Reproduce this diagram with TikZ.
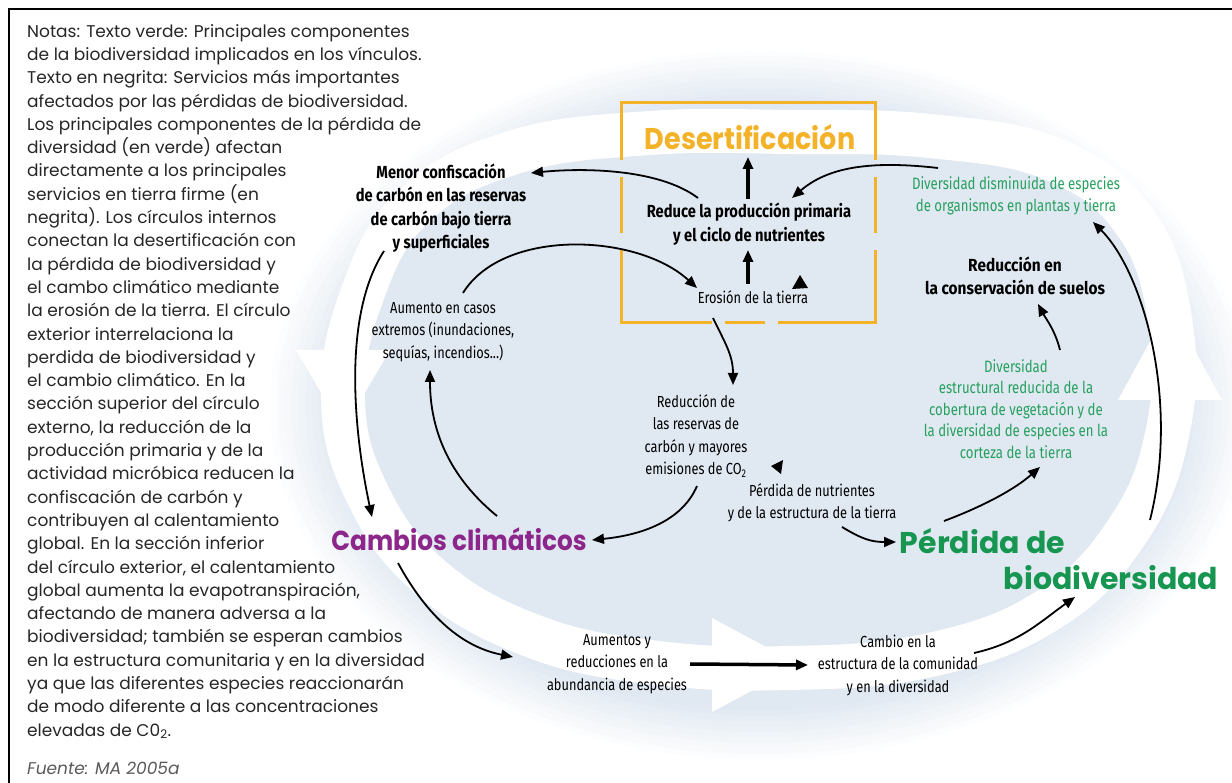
\documentclass[tikz,border=0pt]{standalone}
\usepackage{fontspec}
\setmainfont{Poppins}
\newfontfamily\condfont{Fira Sans}[FakeStretch=0.80]
\newfontfamily\servicefont{Fira Sans}[FakeStretch=0.84]
\newfontfamily\widecondfont{Fira Sans}[FakeStretch=0.88]
\newfontfamily\titlefont{Poppins}[FakeStretch=0.9]
\definecolor{desert}{RGB}{243,178,40}
\definecolor{clima}{RGB}{140,38,138}
\definecolor{biodiv}{RGB}{22,150,80}
\definecolor{comp}{RGB}{38,160,95}
\definecolor{backblue}{RGB}{224,232,241}
\definecolor{notegray}{RGB}{90,90,90}
\usetikzlibrary{
  arrows.meta      % triangle tips
}
\tikzset{
  every node/.style = {
    inner sep = 1pt,
    align = center
  },
  headline/.style = {font=\titlefont\bfseries\fontsize{30}{36}\selectfont},
  service/.style = {font=\servicefont\bfseries\fontsize{17.5}{23.5}\selectfont},
  effect/.style = {font=\condfont\fontsize{16}{22.5}\selectfont},
  component/.style = {text=comp, font=\condfont\fontsize{16.5}{21.5}\selectfont},
  notes/.style = {align=left, inner sep=0pt, text=black!85,
    font=\fontsize{17}{23.3}\selectfont},
  flow/.style = {->, line width=1.8pt},
  bigflow/.style = {->, line width=3.5pt},
  >={Triangle[length=12pt,width=10pt]}  % arrow type
}

\begin{document}
\begin{tikzpicture}[x=1pt, y=-1pt]
\useasboundingbox (0,0) rectangle (1232,783);

% background disc with soft edge, and white ring
\foreach \k in {1,...,10}
  \fill[backblue!\k0!white] (760,405) ellipse [x radius={497-7*\k}, y radius={360-5.5*\k}];
\draw[white, line width=44pt] plot[smooth cycle, tension=0.7] coordinates {
  (343,400) (362,295) (415,205) (515,152) (650,133) (790,132) (930,136)
  (1055,160) (1135,222) (1170,320) (1168,430) (1128,530) (1048,610)
  (930,655) (790,668) (650,662) (530,635) (430,577) (368,495)};
\fill[white] (296,350) -- (390,350) -- (343,430) -- cycle;
\fill[white] (712,618) -- (712,712) -- (800,665) -- cycle;
\fill[white] (1118,400) -- (1222,400) -- (1170,305) -- cycle;

% frame
\draw[line width=2pt] (1232,9) -- (9,9) -- (9,783);

% desertification box
\begin{scope}[desert, line width=3pt]
  \draw (621,160) -- (621,103) -- (875,103) -- (875,160);
  \draw (621,177) -- (621,233);
  \draw (621,250) -- (621,323) -- (712,323);
  \draw (725,323) -- (765,323);
  \draw (778,323) -- (875,323) -- (875,250);
  \draw (875,233) -- (875,177);
\end{scope}

% notes
\node[notes, anchor=north west] (notas) at (27,24) {%
Notas: Texto verde: Principales componentes\\
de la biodiversidad implicados en los vínculos.\\
Texto en negrita: Servicios más importantes\\
afectados por las pérdidas de biodiversidad.\\
Los principales componentes de la pérdida de\\
diversidad (en verde) afectan\\
directamente a los principales\\
servicios en tierra firme (en\\
negrita). Los círculos internos\\
conectan la desertificación con\\
la pérdida de biodiversidad y\\
el cambo climático mediante\\
la erosión de la tierra. El círculo\\
exterior interrelaciona la\\
perdida de biodiversidad y\\
el cambio climático. En la\\
sección superior del círculo\\
externo, la reducción de la\\
producción primaria y de la\\
actividad micróbica reducen la\\
confiscación de carbón y\\
contribuyen al calentamiento\\
global. En la sección inferior\\
del círculo exterior, el calentamiento\\
global aumenta la evapotranspiración,\\
afectando de manera adversa a la\\
biodiversidad; también se esperan cambios\\
en la estructura comunitaria y en la diversidad\\
ya que las diferentes especies reaccionarán\\
de modo diferente a las concentraciones\\
elevadas de C0\textsubscript{2}.};
\node[notes, anchor=west, text=notegray, font=\itshape\fontsize{17}{23.3}\selectfont]
  (fuente) at (27,768) {Fuente: MA 2005a};

% main concepts
\node[headline, text=desert] (desert) at (750,137) {Desertificación};
\node[headline, text=clima, font=\titlefont\bfseries\fontsize{27.5}{36}\selectfont]
  (cambios) at (459,539) {Cambios climáticos};
\node[headline, text=biodiv, align=left, font=\bfseries\fontsize{30}{36}\selectfont]
  (perdida) at (1059,559) {Pérdida de\\\hspace*{104pt}biodiversidad};

% inner nodes
\node[service] (reduce) at (749,224) {Reduce la producción primaria\\y el ciclo de nutrientes};
\node[effect] (erosion) at (753,297) {Erosión de la tierra};
\node[service] (menor) at (441,208) {Menor confiscación\\de carbón en las reservas\\de carbón bajo tierra\\y superficiales};
\node[effect] (aumento) at (443,332) {Aumento en casos\\extremos (inundaciones,\\sequías, incendios...)};
\node[effect] (reservas) at (696,436) {Reducción de\\las reservas de\\carbón y mayores\\emisiones de CO\textsubscript{2}};
\node[effect] (nutrientes) at (812,503) {Pérdida de nutrientes\\y de la estructura de la tierra};
\node[component] (estructural) at (1016,409) {Diversidad\\estructural reducida de la\\cobertura de vegetación y de\\la diversidad de especies en la\\corteza de la tierra};
\node[service, font=\widecondfont\bfseries\fontsize{17.5}{23.5}\selectfont]
  (conserv) at (1015,276) {Reducción en\\la conservación de suelos};
\node[component] (disminuida) at (1016,196) {Diversidad disminuida de especies\\de organismos en plantas y tierra};
\node[effect] (aumentos) at (617,664) {Aumentos y\\reducciones en la\\abundancia de especies};
\node[effect] (cambio) at (898,665) {Cambio en la\\estructura de la comunidad\\y en la diversidad};

% connectors
\draw[bigflow] ([shift={(-1,-25)}]reduce.center) -- ([shift={(-2,20)}]desert.center);
\draw[bigflow] ([shift={(-5,-13)}]erosion.center) -- ([shift={(-1,26)}]reduce.center);
\draw[bigflow] ([shift={(73,0)}]aumentos.center) -- ([shift={(-90,0)}]cambio.center);
\draw[flow] ([shift={(-51,-26)}]reduce.center) .. controls +(-40,-30) and +(50,-5) .. ([shift={(90,-35)}]menor.center);
\draw[flow] ([shift={(20,-39)}]aumento.center) .. controls +(40,-65) and +(-60,-55) .. ([shift={(-56,-9)}]erosion.center);
\draw[flow] ([shift={(-40,21)}]erosion.center) .. controls +(12,25) and +(0,-30) .. ([shift={(37,-51)}]reservas.center);
\draw[flow] ([shift={(1,50)}]reservas.center) .. controls +(-15,35) and +(50,-5) .. ([shift={(133,1)}]cambios.center);
\draw[flow] ([shift={(38,-23)}]cambios.center) .. controls +(-55,-45) and +(0,50) .. ([shift={(-13,38)}]aumento.center);
\draw[flow] ([shift={(-57,43)}]menor.center) .. controls +(-45,70) and +(-15,-70) .. ([shift={(-87,-22)}]cambios.center);
\draw[flow] ([shift={(-61,24)}]cambios.center) .. controls +(30,55) and +(-50,-10) .. ([shift={(-104,-7)}]aumentos.center);
\draw[flow] ([shift={(76,-12)}]cambio.center) .. controls +(45,-10) and +(-35,25) .. ([shift={(16,38)}]perdida.center);
\draw[flow] ([shift={(30,24)}]nutrientes.center) .. controls +(20,12) and +(-25,0) .. ([shift={(-163,-17)}]perdida.center);
\draw[flow] ([shift={(-115,-38)}]perdida.center) .. controls +(40,-15) and +(-25,22) .. ([shift={(24,58)}]estructural.center);
\draw[flow] ([shift={(44,-59)}]estructural.center) .. controls +(-5,-20) and +(8,15) .. ([shift={(23,28)}]conserv.center);
\draw[flow] ([shift={(91,-39)}]perdida.center) .. controls +(30,-120) and +(50,50) .. ([shift={(77,26)}]disminuida.center);
\draw[flow] ([shift={(-78,-28)}]disminuida.center) .. controls +(-70,-8) and +(35,-30) .. ([shift={(43,-26)}]reduce.center);

% stray arrowheads
\fill (800,275) -- (808,288) -- (792,289) -- cycle;
\fill (771,466) -- (783,460) -- (781,474) -- cycle;
\end{tikzpicture}
\end{document}
